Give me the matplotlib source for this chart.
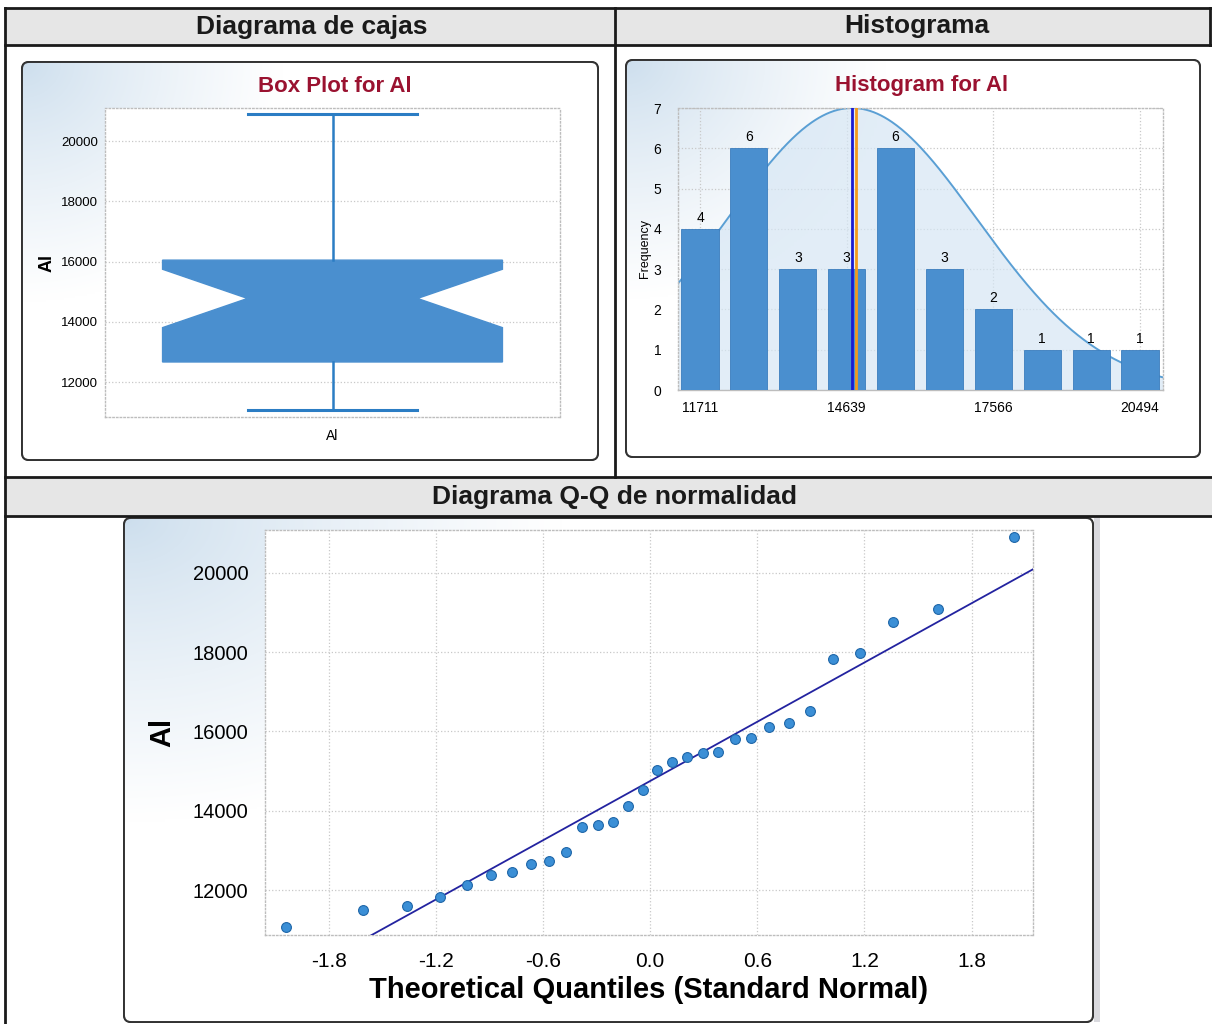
import numpy as np
import matplotlib
matplotlib.use("Agg")
import matplotlib.pyplot as plt
from matplotlib.patches import FancyBboxPatch, Rectangle
from statistics import NormalDist

W, H = 1212, 1024

# Al concentration, sorted (30 samples)
al_values = [11060, 11504, 11598, 11824, 12134, 12369, 12453, 12646, 12730, 12956,
             13585, 13627, 13711, 14130, 14533, 15020, 15220, 15346, 15455, 15489,
             15807, 15841, 16118, 16201, 16511, 17819, 17980, 18759, 19077, 20900]

hist_counts = [4, 6, 3, 3, 6, 3, 2, 1, 1, 1]
hist_tick_pos = [0, 3, 6, 9]
hist_tick_labels = ["11711", "14639", "17566", "20494"]
hist_ymax = 7

box_yticks = [12000, 14000, 16000, 18000, 20000]
qq_xticks = [-1.8, -1.2, -0.6, 0.0, 0.6, 1.2, 1.8]
qq_yticks = [12000, 14000, 16000, 18000, 20000]

BAR_BLUE = "#4a8fcf"
TITLE_RED = "#9a1230"
FONT = ["Liberation Sans", "DejaVu Sans"]
NARROW = ["Liberation Sans Narrow", "Liberation Sans", "DejaVu Sans"]

plt.rcParams["font.family"] = FONT


def fig_rect(x0, y0, x1, y1):
    # pixel box (origin top-left) -> [left, bottom, width, height] in figure fraction
    return [x0 / W, 1 - y1 / H, (x1 - x0) / W, (y1 - y0) / H]


def panel(bg, x0, y0, x1, y1):
    # rounded frame with a soft blue wash in the top-left corner
    box = FancyBboxPatch((x0, y0), x1 - x0, y1 - y0,
                         boxstyle="round,pad=0,rounding_size=7",
                         facecolor="white", edgecolor="#333333", lw=1.4, zorder=2)
    bg.add_patch(box)
    w, h = x1 - x0, y1 - y0
    u, v = np.meshgrid(np.linspace(0, 1, 200), np.linspace(0, 1, 200))
    t = np.clip(np.sqrt((u / 0.45) ** 2 + (v / 0.6) ** 2), 0, 1) ** 0.8
    blue = np.array([0.80, 0.87, 0.93])
    img = blue[None, None, :] * (1 - t[..., None]) + t[..., None]
    im = bg.imshow(img, extent=(x0, x1, y1, y0), zorder=2.5, interpolation="bilinear")
    im.set_clip_path(box)
    bg.add_patch(FancyBboxPatch((x0, y0), w, h, boxstyle="round,pad=0,rounding_size=7",
                                facecolor="none", edgecolor="#333333", lw=1.4, zorder=3))


def style_axes(ax):
    ax.set_facecolor("white")
    for s in ax.spines.values():
        s.set_color("#bdbdbd")
        s.set_linestyle(":")
        s.set_linewidth(1.0)
    ax.grid(True, color="#c8c8c8", linestyle=":", linewidth=0.9)
    ax.set_axisbelow(True)
    ax.tick_params(length=0)


fig = plt.figure(figsize=(W / 100, H / 100), dpi=100)

# page background: table frame, headers and panels
bg = fig.add_axes([0, 0, 1, 1], zorder=0)
bg.set_xlim(0, W)
bg.set_ylim(H, 0)
bg.axis("off")

for (x0, y0, x1, y1) in [(5, 8, 1212, 45), (5, 477, 1212, 516)]:
    bg.add_patch(Rectangle((x0, y0), x1 - x0, y1 - y0, facecolor="#e6e6e6",
                           edgecolor="none", zorder=1))

line_kw = dict(color="#1a1a1a", lw=2, zorder=4)
for y in [8, 45, 477, 516]:
    bg.plot([5, 1212], [y, y], **line_kw)
bg.plot([5, 5], [8, 1024], **line_kw)
bg.plot([615, 615], [8, 477], **line_kw)
bg.plot([1210, 1210], [8, 45], **line_kw)

head_kw = dict(ha="center", va="center", fontsize=19, fontweight="bold",
               color="#1a1a1a", zorder=5)
bg.text(312, 27, "Diagrama de cajas", **head_kw)
bg.text(917, 26, "Histograma", **head_kw)
bg.text(614, 497, "Diagrama Q-Q de normalidad", **head_kw)

panel(bg, 22, 62, 598, 460)
panel(bg, 626, 60, 1200, 457)
panel(bg, 124, 518, 1093, 1022)
bg.add_patch(Rectangle((1094, 518), 6, 504, facecolor="#d9d9de", edgecolor="none", zorder=1))

bg.text(335, 87, "Box Plot for Al", ha="center", va="center", fontsize=16,
        fontweight="bold", color=TITLE_RED, family=NARROW, zorder=5)
bg.text(922, 86, "Histogram for Al", ha="center", va="center", fontsize=16,
        fontweight="bold", color=TITLE_RED, family=NARROW, zorder=5)

# --- notched box plot ---
ax_box = fig.add_axes(fig_rect(105, 108, 560, 417), zorder=2)
style_axes(ax_box)
ax_box.grid(axis="x", visible=False)
ax_box.boxplot(al_values, notch=True, whis=(0, 100), widths=0.747, patch_artist=True,
               showfliers=False,
               boxprops=dict(facecolor=BAR_BLUE, edgecolor=BAR_BLUE, lw=1),
               medianprops=dict(color=BAR_BLUE, lw=1),
               whiskerprops=dict(color="#2b7dc4", lw=1.8),
               capprops=dict(color="#2b7dc4", lw=2.2))
ax_box.set_xlim(0.5, 1.5)
ax_box.set_ylim(10840, 21100)
ax_box.set_yticks(box_yticks)
ax_box.set_yticklabels([str(v) for v in box_yticks], family=NARROW, fontsize=9.5)
ax_box.set_xticks([1])
ax_box.set_xticklabels(["Al"], family=NARROW, fontsize=10)
ax_box.tick_params(axis="y", pad=5)
ax_box.tick_params(axis="x", pad=9)
ax_box.set_ylabel("Al", fontsize=13, fontweight="bold", labelpad=4)

# --- histogram with fitted normal curve ---
ax_hist = fig.add_axes(fig_rect(678, 108, 1163, 390), zorder=2)
style_axes(ax_hist)
ax_hist.set_facecolor("none")
ax_hist.spines["bottom"].set_linestyle("-")
pos = np.arange(len(hist_counts))
step = (int(hist_tick_labels[-1]) - int(hist_tick_labels[0])) / (hist_tick_pos[-1] - hist_tick_pos[0])
origin = int(hist_tick_labels[0])
mean = np.mean(al_values)
median = np.median(al_values)
sd = np.std(al_values, ddof=1)
xs = np.linspace(-0.45, 9.47, 400)
curve = hist_ymax * np.exp(-0.5 * ((origin + xs * step - mean) / sd) ** 2)
ax_hist.fill_between(xs, 0, curve, color="#d6e6f4", alpha=0.7, lw=0, zorder=1)
ax_hist.plot(xs, curve, color="#5a9fd4", lw=1.4, zorder=2)
bars = ax_hist.bar(pos, hist_counts, width=0.76, color=BAR_BLUE, edgecolor="#3b7dbd",
                   lw=0.6, zorder=3)
ax_hist.bar_label(bars, labels=[str(c) for c in hist_counts], padding=3,
                  family=NARROW, fontsize=10)
ax_hist.axvline((mean - origin) / step, color="#1b1bd0", lw=2, zorder=4)
ax_hist.axvline((median - origin) / step + 0.05, color="#f39a1c", lw=2, zorder=4)
ax_hist.set_xlim(-0.45, 9.47)
ax_hist.set_ylim(0, hist_ymax)
ax_hist.set_yticks(range(hist_ymax + 1))
ax_hist.set_yticklabels([str(i) for i in range(hist_ymax + 1)], family=NARROW, fontsize=10)
ax_hist.set_xticks(hist_tick_pos)
ax_hist.set_xticklabels(hist_tick_labels, family=NARROW, fontsize=10)
ax_hist.tick_params(axis="y", pad=12)
ax_hist.tick_params(axis="x", pad=8)
ax_hist.set_ylabel("Frequency", family=NARROW, fontsize=9, labelpad=2)

# --- normal Q-Q plot ---
ax_qq = fig.add_axes(fig_rect(265, 530, 1033, 935), zorder=2)
style_axes(ax_qq)
n = len(al_values)
theo = [NormalDist().inv_cdf((i - 0.375) / (n + 0.25)) for i in range(1, n + 1)]
ax_qq.scatter(theo, sorted(al_values), s=50, color="#3b8fd6", edgecolors="#1f66a8",
              linewidths=0.8, zorder=4)
zl = np.array([-2.2, 2.2])
ax_qq.plot(zl, mean + sd * zl, color="#2323a0", lw=1.3, zorder=3)
ax_qq.set_xlim(-2.156, 2.144)
ax_qq.set_ylim(10866, 21076)
ax_qq.set_xticks(qq_xticks)
ax_qq.set_xticklabels([f"{v:.1f}" for v in qq_xticks], fontsize=15)
ax_qq.set_yticks(qq_yticks)
ax_qq.set_yticklabels([str(v) for v in qq_yticks], fontsize=14.5)
ax_qq.tick_params(axis="y", pad=12)
ax_qq.tick_params(axis="x", pad=12)
ax_qq.set_xlabel("Theoretical Quantiles (Standard Normal)", fontsize=21,
                 fontweight="bold", labelpad=4)
ax_qq.set_ylabel("Al", fontsize=21, fontweight="bold", labelpad=12)

fig.savefig("out.png", dpi=100)
